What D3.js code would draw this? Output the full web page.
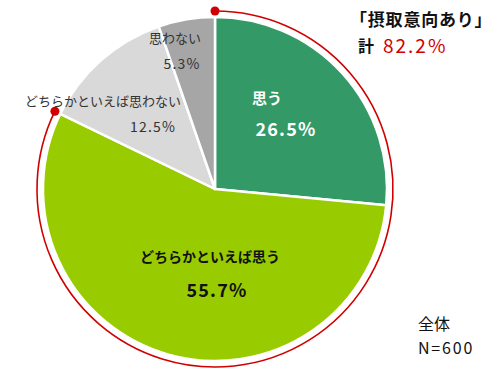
<!DOCTYPE html>
<html>
<head>
<meta charset="utf-8">
<script src="https://cdn.jsdelivr.net/npm/d3@7"></script>
<style>
  body { margin: 0; background: #fff; }
  svg { display: block; font-family: "Noto Sans CJK JP", "Noto Sans", sans-serif; }
</style>
</head>
<body>
<svg id="chart"></svg>
<script>
// data
const categories = ['思う', 'どちらかといえば思う', 'どちらかといえば思わない', '思わない']
const values = [26.5, 55.7, 12.5, 5.3]
const colours = ['#339966', '#99CC00', '#D9D9D9', '#A6A6A6']
const intentShare = 82.2   // 思う + どちらかといえば思う
const sampleSize = 600

const width = 500
const height = 373
const cx = 215, cy = 189
const radius = 172
const arcRadius = 178
const red = '#D00000'

const svg = d3.select('#chart').attr('width', width).attr('height', height)
const g = svg.append('g').attr('transform', `translate(${cx},${cy})`)

const pieData = d3.pie().sort(null).value(d => d)(values)
const arc = d3.arc().innerRadius(0).outerRadius(radius)

g.selectAll('.slice')
  .data(pieData)
  .join('path')
  .attr('class', 'slice')
  .attr('d', arc)
  .attr('fill', (d, i) => colours[i])
  .attr('stroke', '#fff')
  .attr('stroke-width', 2.5)
  .attr('stroke-linejoin', 'round')

// red bracket arc over the "intent" share
const endAngle = 2 * Math.PI * intentShare / 100
const bracket = d3.arc()
  .innerRadius(arcRadius).outerRadius(arcRadius)
  .startAngle(0).endAngle(endAngle)
g.append('path')
  .attr('d', bracket())
  .attr('fill', 'none')
  .attr('stroke', red)
  .attr('stroke-width', 1.6)

;[0, endAngle].forEach(a => {
  g.append('circle')
    .attr('cx', arcRadius * Math.sin(a))
    .attr('cy', -arcRadius * Math.cos(a))
    .attr('r', 4.5)
    .attr('fill', red)
})

// slice labels: [name x, name y, value x, value y] relative to page
const labelPos = [
  [267, 100, 286, 131],
  [210, 258, 217, 292],
  [103, 102, 153, 128],
  [175, 39, 182, 65]
]
const labelStyle = [
  { fill: '#fff', weight: 'bold', nameSize: 15, valSize: 18 },
  { fill: '#111', weight: 'bold', nameSize: 14, valSize: 18 },
  { fill: '#333', weight: 'normal', nameSize: 13, valSize: 14 },
  { fill: '#333', weight: 'normal', nameSize: 13, valSize: 14 }
]

const labels = svg.append('g')
categories.forEach((c, i) => {
  const p = labelPos[i], s = labelStyle[i]
  labels.append('text')
    .attr('x', p[0]).attr('y', p[1])
    .attr('text-anchor', 'middle')
    .attr('dominant-baseline', 'middle')
    .attr('font-size', s.nameSize)
    .attr('font-weight', s.weight)
    .attr('fill', s.fill)
    .text(c)
  labels.append('text')
    .attr('x', p[2]).attr('y', p[3])
    .attr('text-anchor', 'middle')
    .attr('dominant-baseline', 'middle')
    .attr('font-size', s.valSize)
    .attr('font-weight', s.weight)
    .attr('fill', s.fill)
    .attr('letter-spacing', 1.2)
    .text(`${values[i].toFixed(1)}%`)
})

// title block top-right
svg.append('text')
  .attr('x', 350).attr('y', 21)
  .attr('dominant-baseline', 'middle')
  .attr('font-size', 17)
  .attr('font-weight', 'bold')
  .attr('fill', '#111')
  .attr('letter-spacing', 0.8)
  .text('「摂取意向あり」')

svg.append('text')
  .attr('x', 358).attr('y', 48)
  .attr('dominant-baseline', 'middle')
  .attr('font-size', 16)
  .attr('font-weight', 'bold')
  .attr('fill', '#111')
  .text('計')
svg.append('text')
  .attr('x', 383).attr('y', 48)
  .attr('dominant-baseline', 'middle')
  .attr('font-size', 19)
  .attr('fill', red)
  .attr('letter-spacing', 2)
  .text(`${intentShare.toFixed(1)}%`)

// sample note bottom-right
svg.append('text')
  .attr('x', 418).attr('y', 326)
  .attr('dominant-baseline', 'middle')
  .attr('font-size', 16)
  .attr('fill', '#111')
  .text('全体')
svg.append('text')
  .attr('x', 418).attr('y', 350)
  .attr('dominant-baseline', 'middle')
  .attr('font-size', 16)
  .attr('fill', '#111')
  .attr('letter-spacing', 1.8)
  .text(`N=${sampleSize}`)
</script>
</body>
</html>
